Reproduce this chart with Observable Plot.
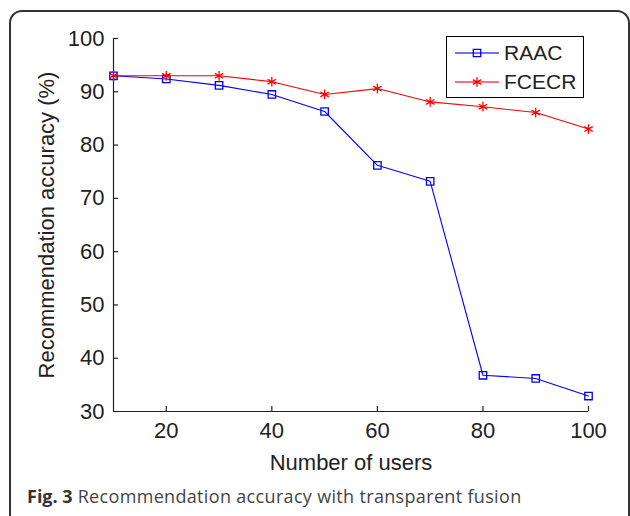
<!DOCTYPE html>
<html><head><meta charset="utf-8">
<script src="https://cdn.jsdelivr.net/npm/d3@7"></script>
<script src="https://cdn.jsdelivr.net/npm/@observablehq/plot@0.6"></script>
<style>
body{margin:0;background:#fff;}
#wrap{position:relative;width:630px;height:516px;overflow:hidden;font-family:"Liberation Sans",Arial,sans-serif;background:#fff;}
#frame{position:absolute;left:9px;top:10px;width:621px;height:540px;border:2px solid #333;border-radius:13px;box-sizing:border-box;}
#chart{position:absolute;left:0;top:0;}
#legend{position:absolute;left:446px;top:36px;width:138px;height:62px;border:1.5px solid #000;box-sizing:border-box;background:#fff;}
.row{position:absolute;left:0;height:28px;display:flex;align-items:center;}
.row span{font-size:21px;color:#222;margin-left:5px;}
#caption{position:absolute;left:27px;top:485px;font-family:"Open Sans",sans-serif;font-size:18px;letter-spacing:0.33px;line-height:22px;color:#444;white-space:nowrap;}
#caption b{color:#333;letter-spacing:0;}
</style>
</head><body>
<div id="wrap">
  <div id="frame"></div>
  <div id="chart"></div>
  <div id="legend"></div>
  <div id="caption"><b>Fig. 3</b> Recommendation accuracy with transparent fusion</div>
</div>
<script>
const users = [10, 20, 30, 40, 50, 60, 70, 80, 90, 100];
const raac = [93, 92.4, 91.2, 89.5, 86.3, 76.2, 73.2, 36.8, 36.2, 32.9];
const fcecr = [93, 93, 93, 91.9, 89.5, 90.6, 88.1, 87.2, 86.1, 83];
const seriesNames = ["RAAC", "FCECR"];
const seriesColors = ["#0000ff", "#ff0000"];
const xTicks = [20, 40, 60, 80, 100];
const yTicks = [30, 40, 50, 60, 70, 80, 90, 100];
const xLabel = "Number of users";
const yLabel = "Recommendation accuracy (%)";

const rows = users.map((u, i) => ({users: u, RAAC: raac[i], FCECR: fcecr[i]}));

const W = 630, H = 480, mL = 113, mR = 42, mT = 38, mB = 69;
const xDom = [10, 100], yDom = [30, 100];
const tkX = 5 * (xDom[1] - xDom[0]) / (W - mL - mR);
const tkY = 5 * (yDom[1] - yDom[0]) / (H - mT - mB);
const axisColor = "#222";
const fs = 22;

const chart = Plot.plot({
  width: W, height: H,
  marginLeft: mL, marginRight: mR, marginTop: mT, marginBottom: mB,
  x: {domain: xDom},
  y: {domain: yDom},
  style: {fontFamily: "'Liberation Sans', Arial, sans-serif", fontSize: fs + "px", color: axisColor, background: "transparent", overflow: "visible"},
  marks: [
    Plot.ruleX([xDom[0]], {stroke: axisColor, strokeWidth: 1.2}),
    Plot.ruleY([yDom[0]], {stroke: axisColor, strokeWidth: 1.2}),
    Plot.ruleX(xTicks, {x: d => d, y1: yDom[0], y2: yDom[0] + tkY, stroke: axisColor, strokeWidth: 1.2}),
    Plot.ruleY(yTicks, {y: d => d, x1: xDom[0], x2: xDom[0] + tkX, stroke: axisColor, strokeWidth: 1.2}),
    Plot.axisX(xTicks, {tickSize: 0, tickPadding: 11, label: null, fontSize: fs, fill: axisColor}),
    Plot.axisY(yTicks, {tickSize: 0, tickPadding: 9, label: null, fontSize: fs, fill: axisColor}),
    Plot.text([xLabel], {frameAnchor: "bottom", dy: 51, fontSize: fs, fill: axisColor, textAnchor: "middle", lineAnchor: "middle"}),
    Plot.text([yLabel], {frameAnchor: "left", dx: -67, rotate: -90, fontSize: fs, fill: axisColor, textAnchor: "middle", lineAnchor: "middle"}),
    Plot.line(rows, {x: "users", y: "RAAC", stroke: seriesColors[0], strokeWidth: 1.1}),
    Plot.dot(rows, {x: "users", y: "RAAC", symbol: "square", r: 4.2, stroke: seriesColors[0], fill: "none", strokeWidth: 1.3}),
    Plot.line(rows, {x: "users", y: "FCECR", stroke: seriesColors[1], strokeWidth: 1.1}),
    Plot.dot(rows, {x: "users", y: "FCECR", symbol: "asterisk", r: 4.6, stroke: seriesColors[1], strokeWidth: 1.3})
  ]
});
document.getElementById("chart").appendChild(chart);

// legend
const legend = document.getElementById("legend");
const symbols = [d3.symbolSquare, d3.symbolAsterisk];
const sizes = [Math.PI * 4.2 * 4.2, Math.PI * 4.6 * 4.6];
seriesNames.forEach((name, i) => {
  const row = document.createElement("div");
  row.className = "row";
  row.style.top = (i === 0 ? 2 : 31) + "px";
  row.style.left = "8px";
  const svg = d3.create("svg").attr("width", 44).attr("height", 28);
  svg.append("line").attr("x1", 0).attr("x2", 44).attr("y1", 14).attr("y2", 14)
    .attr("stroke", seriesColors[i]).attr("stroke-width", 1.3).attr("stroke-opacity", 0.75);
  svg.append("path").attr("d", d3.symbol(symbols[i], sizes[i])())
    .attr("transform", "translate(22,14)")
    .attr("fill", "none").attr("stroke", seriesColors[i]).attr("stroke-width", 1.3);
  row.appendChild(svg.node());
  const t = document.createElement("span");
  t.textContent = name;
  row.appendChild(t);
  legend.appendChild(row);
});
</script>
</body></html>
